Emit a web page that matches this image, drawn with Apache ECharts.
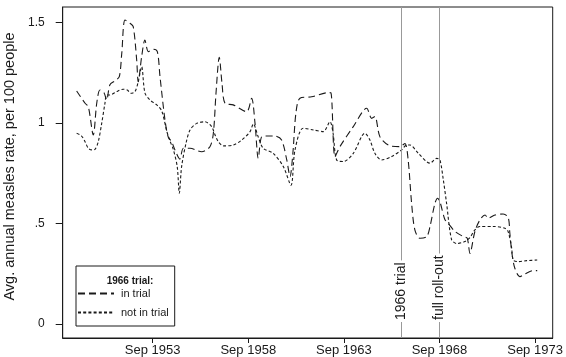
<!DOCTYPE html>
<html>
<head>
<meta charset="utf-8">
<script src="https://cdn.jsdelivr.net/npm/echarts@6/dist/echarts.min.js"></script>
<style>
  html, body { margin: 0; padding: 0; background: #fff; }
  #chart { width: 566px; height: 357px; }
</style>
</head>
<body>
<div id="chart"></div>
<script>
// Time positions are decimal years (Sep = year + 8/12).
const inTrialTimes = [
  1949.69, 1950.13, 1950.30, 1950.56, 1950.74, 1950.91, 1951.12, 1951.26, 1951.43, 1951.70,
  1951.92, 1952.05, 1952.22, 1952.48, 1952.65, 1952.83, 1952.91, 1953.09, 1953.26, 1953.44,
  1953.70, 1953.91, 1954.05, 1954.31, 1954.48, 1954.66, 1954.83, 1955.09, 1955.27, 1955.62,
  1956.23, 1956.66, 1956.84, 1956.98, 1957.15, 1957.29, 1957.45, 1957.88, 1958.58, 1958.84,
  1959.02, 1959.19, 1959.37, 1959.63, 1960.06, 1960.41, 1960.68, 1960.85, 1961.00, 1961.16,
  1961.37, 1961.98, 1962.85, 1962.99, 1963.20, 1963.46, 1964.16, 1964.86, 1965.12, 1965.29,
  1965.55, 1965.99, 1966.60, 1966.86, 1967.03, 1967.21, 1967.38, 1967.65, 1968.00, 1968.17,
  1968.43, 1968.57, 1968.69, 1968.95, 1969.13, 1969.48, 1969.91, 1970.12, 1970.26, 1970.52,
  1970.78, 1971.05, 1971.22, 1971.57, 1972.00, 1972.26, 1972.35, 1972.46, 1972.61, 1972.88,
  1973.14, 1973.57, 1973.78
];
const inTrialRates = [
  1.159, 1.098, 1.081, 0.940, 1.098, 1.164, 1.150, 1.114, 1.190, 1.210,
  1.230, 1.347, 1.512, 1.496, 1.479, 1.313, 1.205, 1.330, 1.413, 1.355,
  1.367, 1.355, 1.230, 1.015, 0.930, 0.907, 0.866, 0.820, 0.874, 0.874,
  0.857, 0.882, 0.949, 1.150, 1.327, 1.200, 1.098, 1.090, 1.056, 1.123,
  0.998, 0.824, 0.932, 0.935, 0.935, 0.915, 0.816, 0.733, 0.850, 1.050,
  1.123, 1.130, 1.151, 1.150, 0.832, 0.882, 0.982, 1.073, 1.023, 1.032,
  0.932, 0.890, 0.882, 0.898, 0.815, 0.600, 0.468, 0.426, 0.434, 0.484,
  0.600, 0.625, 0.608, 0.520, 0.500, 0.460, 0.435, 0.426, 0.351, 0.460,
  0.517, 0.542, 0.526, 0.542, 0.547, 0.530, 0.450, 0.350, 0.277, 0.235,
  0.249, 0.265, 0.265
];

const notInTrialTimes = [
  1949.69, 1949.95, 1950.13, 1950.30, 1950.48, 1950.65, 1950.82, 1951.00, 1951.17, 1951.26,
  1951.43, 1951.78, 1952.13, 1952.34, 1952.52, 1952.74, 1952.91, 1953.09, 1953.26, 1953.53,
  1953.88, 1954.14, 1954.40, 1954.57, 1954.74, 1954.95, 1955.06, 1955.18, 1955.41, 1955.62,
  1955.97, 1956.40, 1956.75, 1956.93, 1957.10, 1957.36, 1957.88, 1958.32, 1958.76, 1958.93,
  1959.19, 1959.45, 1959.97, 1960.50, 1960.90, 1961.11, 1961.54, 1962.07, 1962.59, 1962.94,
  1963.10, 1963.29, 1963.64, 1964.16, 1964.77, 1965.03, 1965.29, 1965.64, 1966.17, 1966.69,
  1966.95, 1967.12, 1967.56, 1968.17, 1968.52, 1968.69, 1968.87, 1969.04, 1969.30, 1969.57,
  1970.00, 1970.26, 1970.52, 1970.78, 1971.48, 1972.09, 1972.26, 1972.44, 1972.53, 1972.79,
  1973.23, 1973.78
];
const notInTrialRates = [
  0.949, 0.935, 0.907, 0.874, 0.866, 0.869, 0.907, 0.998, 1.098, 1.139,
  1.139, 1.156, 1.168, 1.164, 1.148, 1.156, 1.205, 1.280, 1.150, 1.114,
  1.090, 1.060, 0.960, 0.910, 0.870, 0.783, 0.650, 0.783, 0.899, 0.965,
  0.998, 1.006, 0.982, 0.940, 0.907, 0.886, 0.890, 0.915, 0.957, 0.995,
  0.930, 0.874, 0.849, 0.783, 0.690, 0.866, 0.974, 0.965, 0.957, 1.006,
  0.950, 0.816, 0.808, 0.849, 0.949, 0.915, 0.849, 0.816, 0.833, 0.866,
  0.890, 0.890, 0.849, 0.800, 0.824, 0.816, 0.716, 0.600, 0.420, 0.400,
  0.410, 0.430, 0.468, 0.485, 0.485, 0.476, 0.459, 0.380, 0.318, 0.310,
  0.315, 0.318
];

const xTickValues = [1953.667, 1958.667, 1963.667, 1968.667, 1973.667];
const xTickLabels = ['Sep 1953', 'Sep 1958', 'Sep 1963', 'Sep 1968', 'Sep 1973'];
const yTickValues = [0, 0.5, 1, 1.5];
const yTickLabels = ['0', '.5', '1', '1.5'];

const eventTimes = [1966.667, 1968.667];
const eventLabels = ['1966 trial', 'full roll-out'];

const FONT = '"Liberation Sans", Arial, Helvetica, sans-serif';
const INK = '#1a1a1a';

function pairs(xs, ys) {
  return xs.map((x, i) => [x, ys[i]]);
}
function labelFor(values, labels, v) {
  for (let i = 0; i < values.length; i++) {
    if (Math.abs(values[i] - v) < 1e-6) return labels[i];
  }
  return '';
}

const chart = echarts.init(document.getElementById('chart'), null, { renderer: 'canvas' });

chart.setOption({
  animation: false,
  backgroundColor: '#fff',
  textStyle: { fontFamily: FONT },
  grid: {
    left: 62.7, right: 13.3, top: 7, bottom: 19,
    containLabel: false,
    outerBoundsMode: 'none',
    show: true, borderColor: INK, borderWidth: 1, backgroundColor: 'transparent'
  },
  title: {
    text: '1966 trial:',
    left: 125, top: 271, textAlign: 'center',
    textStyle: { fontSize: 10, fontWeight: 'bold', color: INK, fontFamily: FONT },
    z: 10
  },
  legend: {
    orient: 'vertical',
    left: 76, top: 266,
    padding: [22, 6, 8, 1],
    itemGap: 8,
    itemWidth: 36, itemHeight: 10,
    borderColor: INK, borderWidth: 1,
    backgroundColor: '#fff',
    itemStyle: { color: 'transparent', borderWidth: 0, opacity: 0 },
    textStyle: { fontSize: 11, color: INK, fontFamily: FONT, padding: [0, 0, 0, 2] },
    data: ['in trial', 'not in trial']
  },
  xAxis: {
    type: 'value',
    min: 1948.96, max: 1974.59,
    splitLine: { show: false },
    axisLine: { show: true, onZero: false, lineStyle: { color: INK } },
    axisTick: { show: true, length: 5, customValues: xTickValues, lineStyle: { color: INK } },
    axisLabel: {
      customValues: xTickValues,
      formatter: v => labelFor(xTickValues, xTickLabels, v),
      fontSize: 13, color: INK, margin: 6, fontFamily: FONT
    }
  },
  yAxis: {
    type: 'value',
    min: -0.07, max: 1.577,
    name: 'Avg. annual measles rate, per 100 people',
    nameLocation: 'middle', nameGap: 38, nameRotate: 90,
    nameTextStyle: { fontSize: 14.5, color: INK, fontFamily: FONT, padding: [0, 0, 0, 12] },
    splitLine: { show: false },
    axisLine: { show: true, onZero: false, lineStyle: { color: INK } },
    axisTick: { show: true, length: 7, customValues: yTickValues, lineStyle: { color: INK } },
    axisLabel: {
      customValues: yTickValues,
      formatter: v => labelFor(yTickValues, yTickLabels, v),
      fontSize: 12, color: INK, margin: 18, fontFamily: FONT
    }
  },
  series: [
    {
      name: 'in trial',
      type: 'line',
      data: pairs(inTrialTimes, inTrialRates),
      symbol: 'none', showSymbol: false,
      smooth: 0.3,
      z: 3,
      lineStyle: { color: INK, width: 1.1, type: [7, 4] },
      itemStyle: { color: INK },
      markLine: {
        silent: true,
        symbol: ['none', 'none'],
        animation: false,
        lineStyle: { color: '#999', width: 1, type: 'solid' },
        label: {
          show: true,
          position: 'insideStart',
          distance: 16,
          fontSize: 14, color: INK, fontFamily: FONT,
          backgroundColor: '#fff', padding: [0, 2]
        },
        emphasis: { disabled: true },
        data: eventTimes.map((t, i) => ({ xAxis: t, label: { formatter: eventLabels[i] } }))
      }
    },
    {
      name: 'not in trial',
      type: 'line',
      data: pairs(notInTrialTimes, notInTrialRates),
      symbol: 'none', showSymbol: false,
      smooth: 0.3,
      z: 3,
      lineStyle: { color: INK, width: 1.1, type: [3, 2.2] },
      itemStyle: { color: INK }
    }
  ]
});
</script>
</body>
</html>
